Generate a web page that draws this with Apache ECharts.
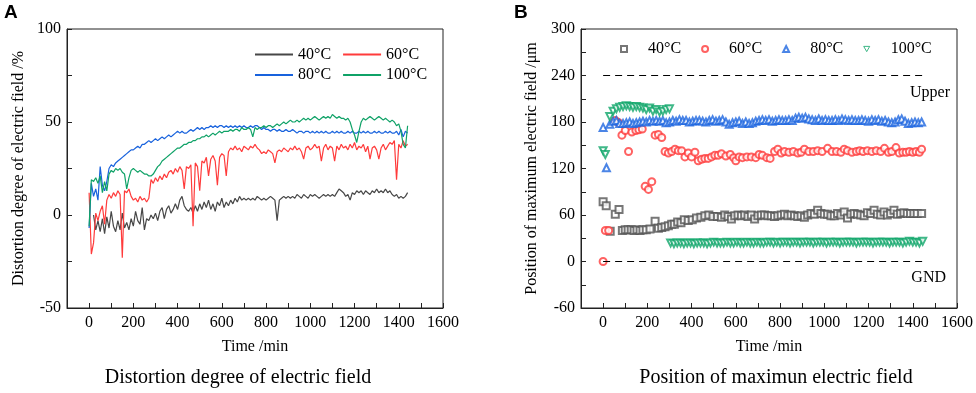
<!DOCTYPE html>
<html>
<head>
<meta charset="utf-8">
<script src="https://cdn.jsdelivr.net/npm/echarts@6.0.0/dist/echarts.min.js"></script>
<style>
  html, body { margin: 0; padding: 0; background: #fff; }
  #main { width: 976px; height: 393px; }
</style>
</head>
<body>
<div id="main"></div>
<script>
// ---- panel A : distortion degree, one value every 10 min ----
const timeA = [
  0, 10, 20, 30, 40, 50, 60, 70, 80, 90, 100, 110, 120, 130, 140, 150, 160, 170, 180, 190,
  200, 210, 220, 230, 240, 250, 260, 270, 280, 290, 300, 310, 320, 330, 340, 350, 360, 370, 380, 390,
  400, 410, 420, 430, 440, 450, 460, 470, 480, 490, 500, 510, 520, 530, 540, 550, 560, 570, 580, 590,
  600, 610, 620, 630, 640, 650, 660, 670, 680, 690, 700, 710, 720, 730, 740, 750, 760, 770, 780, 790,
  800, 810, 820, 830, 840, 850, 860, 870, 880, 890, 900, 910, 920, 930, 940, 950, 960, 970, 980, 990,
  1000, 1010, 1020, 1030, 1040, 1050, 1060, 1070, 1080, 1090, 1100, 1110, 1120, 1130, 1140, 1150, 1160, 1170, 1180, 1190,
  1200, 1210, 1220, 1230, 1240, 1250, 1260, 1270, 1280, 1290, 1300, 1310, 1320, 1330, 1340, 1350, 1360, 1370, 1380, 1390,
  1400, 1410, 1420, 1430, 1440
];
const distort40 = [
  null, null, 0, -8, -3, -9, -2, -10, -1, -7,
  2, -6, -9, -3, -8, 1, -7, -4, -8, -2,
  -6, 2, -3, -5, 4, -8, -2, -3, 0, -2,
  1, -3, 2, 4, -2, 3, 5, 1, 3, 6,
  3, 8, 10, 5, 3, 2, 4, 1, 5, 2,
  6, 3, 7, 4, 8, 3, 6, 2, 7, 5,
  9, 4, 7, 5, 8, 6, 9, 7, 10, 8,
  9, 8, 9, 8, 9, 8, 10, 9, 8, 9,
  8, 9, 10, 9, 8, -3, 8, 9, 10, 9,
  10, 9, 10, 9, 11, 10, 9, 11, 10, 9,
  11, 10, 11, 10, 9, 10, 11, 10, 11, 10,
  11, 10, 12, 14, 13, 12, 10, 11, 8, 12,
  11, 13, 12, 13, 11, 13, 12, 11, 13, 12,
  14, 12, 13, 12, 14, 12, 13, 11, 10, 11,
  9, 10, 9, 10, 12
];
const distort60 = [
  12, -21, -15, 1, -3, 2, 5, -5, 8, 11,
  9, 12, 10, 13, 11, -23, 13, 12, 14, 10,
  8, 9, 7, 10, 8, 9, 7, 9, 19, 17,
  20, 18, 21, 19, 22, 20, 23, 24, 22, 25,
  23, 26, 24, 14, 26, 25, 27, -6, 28, 26,
  13, 29, 28, 31, 21, 30, 32, 29, 16, 31,
  33, 32, 21, 34, 36, 35, 37, 35, 36, 34,
  37, 36, 35, 37, 36, 38, 36, 35, 33, 34,
  33, 35, 34, 33, 28, 34, 35, 34, 36, 35,
  34, 36, 35, 37, 35, 36, 34, 30, 36, 37,
  35, 36, 38, 36, 37, 29, 36, 38, 35, 37,
  36, 29, 37, 35, 38, 36, 37, 35, 38, 36,
  39, 35, 37, 36, 38, 34, 37, 30, 36, 37,
  35, 30, 36, 38, 35, 37, 39, 38, 40, 19,
  38, 36, 40, 37, 38
];
const distort80 = [
  -7, 17, 10, 14, 8, 26, 16, 13, 18, 25,
  27, 26, 28, 29, 30, 31, 32, 33, 34, 35,
  35, 36, 37, 36, 38, 38, 39, 40, 39, 40,
  41, 40, 41, 42, 41, 42, 43, 42, 43, 44,
  45, 44, 45, 44, 44, 45, 46, 45, 46, 47,
  46, 47, 46, 47, 47, 48, 47, 48, 47, 48,
  48, 47, 48, 47, 48, 47, 48, 47, 48, 47,
  48, 47, 47, 48, 47, 48, 48, 47, 46, 47,
  46, 46, 45, 46, 46, 45, 46, 45, 45, 46,
  45, 45, 46, 45, 44, 45, 45, 44, 45, 45,
  44, 45, 44, 45, 44, 45, 44, 45, 44, 44,
  45, 44, 45, 44, 45, 44, 44, 45, 44, 45,
  44, 44, 45, 44, 45, 44, 45, 44, 44, 45,
  44, 45, 44, 44, 45, 44, 45, 44, 44, 45,
  43, 46, 42, 45, 44
];
const distort100 = [
  -6, 19, 18, 20, 17, 21, 12, 18, 13, 22,
  24, 23, 25, 24, 25, 23, 22, 14, 20, 24,
  25, 24, 23, 24, 23, 22, 22, 21, 21, 22,
  24, 26, 27, 29, 30, 31, 32, 33, 34, 35,
  36, 36, 37, 38, 38, 39, 39, 40, 40, 41,
  41, 42, 42, 43, 42, 43, 44, 43, 44, 45,
  44, 45, 45, 45, 46, 45, 46, 46, 45, 47,
  46, 46, 47, 46, 42, 47, 46, 47, 47, 48,
  47, 48, 48, 47, 48, 49, 48, 49, 50, 49,
  50, 51, 50, 50, 51, 50, 51, 52, 51, 52,
  51, 52, 53, 52, 51, 52, 53, 52, 53, 52,
  54, 53, 52, 53, 52, 52, 51, 52, 50, 46,
  43, 39, 45, 50, 52, 51, 52, 53, 52, 51,
  52, 53, 52, 51, 52, 51, 50, 51, 50, 48,
  49, 45, 38, 36, 48
];

// ---- panel B : position of the max field, [time, position] ----
const pos40 = [[0,77],[14,72],[32,39],[55,61],[72,67],[87,40],[100,41],[113,41],[127,41],[140,40],[153,41],[167,40],[180,41],[195,41],[212,42],[235,52],[250,43],[265,44],[280,45],[295,46],[310,48],[322,48],[337,51],[352,50],[367,54],[385,53],[403,54],[422,56],[442,57],[460,59],[478,60],[497,58],[517,58],[535,57],[550,60],[565,58],[580,55],[595,59],[610,60],[625,59],[640,60],[655,58],[670,60],[685,55],[700,59],[715,60],[730,60],[745,59],[760,59],[775,58],[790,59],[805,60],[820,61],[835,59],[850,60],[865,59],[880,58],[895,59],[910,57],[925,60],[940,62],[955,61],[970,66],[985,62],[1000,61],[1015,61],[1030,59],[1045,59],[1060,62],[1075,60],[1090,64],[1105,56],[1120,61],[1135,62],[1150,61],[1165,60],[1180,59],[1195,63],[1210,62],[1225,66],[1240,61],[1255,60],[1270,64],[1285,60],[1300,62],[1315,66],[1330,61],[1345,62],[1360,63],[1375,62],[1390,62],[1405,62],[1420,62],[1440,62]];
const pos60 = [[0,0],[10,40],[25,40],[55,182],[70,179],[85,163],[100,169],[115,142],[130,167],[148,169],[162,170],[177,171],[190,97],[205,93],[220,103],[235,163],[250,164],[265,160],[280,142],[295,140],[310,142],[325,145],[340,143],[355,143],[370,135],[385,140],[400,135],[415,141],[430,130],[445,132],[460,133],[475,133],[490,135],[505,137],[520,137],[535,139],[555,136],[575,138],[590,134],[600,130],[615,135],[630,134],[650,135],[670,135],[690,134],[705,138],[720,137],[740,134],[755,133],[775,142],[790,145],[805,140],[820,142],[840,141],[860,142],[880,140],[895,141],[910,145],[930,142],[950,142],[970,143],[990,142],[1015,146],[1035,142],[1055,142],[1075,141],[1090,145],[1105,143],[1125,141],[1145,142],[1160,143],[1175,142],[1195,143],[1215,142],[1235,143],[1255,142],[1272,146],[1290,141],[1305,142],[1324,147],[1339,140],[1355,141],[1370,141],[1385,142],[1400,141],[1415,142],[1430,141],[1440,145]];
const pos80 = [[0,173],[15,121],[30,177],[45,181],[60,182],[75,178],[90,178],[105,179],[120,180],[135,178],[150,179],[165,180],[180,181],[195,180],[210,182],[225,181],[240,182],[255,181],[270,182],[285,179],[300,180],[315,182],[330,181],[345,183],[360,182],[375,182],[390,180],[405,181],[420,182],[435,182],[450,181],[465,180],[480,182],[495,183],[510,181],[525,182],[540,183],[555,180],[570,177],[585,179],[600,180],[615,181],[630,178],[645,180],[660,178],[675,179],[690,181],[705,182],[720,183],[735,182],[750,183],[765,181],[780,182],[795,183],[810,182],[825,182],[840,183],[855,182],[870,185],[885,186],[900,185],[915,186],[930,184],[945,183],[960,182],[975,184],[990,182],[1005,183],[1020,182],[1035,182],[1050,183],[1065,182],[1080,184],[1095,183],[1110,182],[1125,183],[1140,182],[1155,182],[1170,183],[1185,182],[1200,181],[1215,183],[1230,182],[1245,183],[1260,181],[1275,182],[1290,180],[1305,179],[1320,180],[1335,183],[1350,184],[1365,181],[1380,178],[1395,179],[1410,180],[1425,179],[1440,180]];
const pos100 = [[0,143],[10,138],[30,187],[45,194],[60,197],[75,199],[90,200],[105,201],[120,200],[135,199],[150,200],[165,199],[180,198],[195,196],[210,198],[225,194],[240,196],[255,193],[270,194],[285,196],[300,197],
  [305,24],[320,23],[335,24],[350,24],[365,23],[380,24],[395,24],[410,23],[425,24],[440,24],[455,24],[470,23],[485,24],[500,25],[515,24],[530,24],[545,24],[560,25],[575,24],[590,24],[605,25],[620,24],[635,24],[650,25],[665,24],[680,24],[695,25],[710,24],[725,24],[740,25],[755,25],[770,24],[785,25],[800,24],[815,25],[830,25],[845,24],[860,25],[875,25],[890,24],[905,25],[920,25],[935,25],[950,24],[965,25],[980,25],[995,25],[1010,24],[1025,25],[1040,25],[1055,25],[1070,24],[1085,25],[1100,25],[1115,25],[1130,25],[1145,24],[1160,25],[1175,25],[1190,25],[1205,25],[1220,24],[1235,25],[1250,25],[1265,25],[1280,25],[1295,24],[1310,25],[1325,25],[1340,25],[1355,24],[1370,25],[1385,26],[1400,25],[1415,25],[1430,24],[1445,26]];
const boundaryTime = [0, 1445];
const upperPos = 240;
const gndPos = 0;

const tempNames = ['40°C', '60°C', '80°C', '100°C'];
const xLabels = [0, 200, 400, 600, 800, 1000, 1200, 1400, 1600];
const yLabelsA = [-50, 0, 50, 100];
const yLabelsB = [-60, 0, 60, 120, 180, 240, 300];

const lineColors = ['#474747', '#FF3B3B', '#1862DD', '#0FA267'];
const markColors = ['#555555', '#FF3B3B', '#1E66E0', '#10A66A'];
const serif = 'Liberation Serif';

var chartDom = document.getElementById('main');
var myChart = echarts.init(chartDom);

const labelStyle = () => ({ color: '#000', fontFamily: serif, fontSize: 16 });
const plain = (v) => String(v);

function xAxisFor(grid) {
  return {
    type: 'value', gridIndex: grid, min: -100, max: 1600, interval: 100,
    splitLine: { show: false },
    axisLine: { show: true, onZero: false, lineStyle: { color: '#222' } },
    axisTick: { show: true, inside: true, length: 5, lineStyle: { color: '#222' } },
    axisLabel: Object.assign({ customValues: xLabels, margin: 7, formatter: plain }, labelStyle()),
    name: 'Time /min', nameLocation: 'middle', nameGap: 31, nameTextStyle: labelStyle()
  };
}
function yAxisFor(grid, min, max, step, labels, name, gap) {
  return {
    type: 'value', gridIndex: grid, min: min, max: max, interval: step,
    splitLine: { show: false },
    axisLine: { show: true, onZero: false, lineStyle: { color: '#222' } },
    axisTick: { show: true, inside: true, length: 5, lineStyle: { color: '#222' } },
    axisLabel: Object.assign({ customValues: labels, margin: 6, formatter: plain }, labelStyle()),
    name: name, nameLocation: 'middle', nameGap: gap, nameTextStyle: labelStyle()
  };
}

const seriesA = [distort40, distort60, distort80, distort100].map((vals, i) => ({
  name: tempNames[i],
  type: 'line',
  xAxisIndex: 0, yAxisIndex: 0,
  symbol: 'none',
  lineStyle: { width: 1.2, color: lineColors[i] },
  itemStyle: { color: lineColors[i] },
  data: timeA.map((t, k) => [t, vals[k]])
}));

const symbolsB = ['emptyRect', 'emptyCircle', 'emptyTriangle', 'emptyTriangle'];
const seriesB = [pos40, pos60, pos80, pos100].map((pts, i) => ({
  name: 'b:' + tempNames[i],
  type: 'scatter',
  xAxisIndex: 1, yAxisIndex: 1,
  symbol: symbolsB[i],
  symbolRotate: i === 3 ? 180 : 0,
  symbolSize: 7,
  itemStyle: { color: markColors[i], borderColor: markColors[i], borderWidth: 1 },
  data: pts
}));

const dashed = [upperPos, gndPos].map((y) => ({
  type: 'line', xAxisIndex: 1, yAxisIndex: 1, silent: true, symbol: 'none',
  lineStyle: { color: '#000', width: 1.2, type: [7, 5] },
  data: boundaryTime.map((t) => [t, y])
}));

const legendLine = (names, top) => ({
  data: names, left: 255, top: top, padding: 0, icon: 'rect', itemWidth: 38, itemHeight: 2, itemGap: 12,
  textStyle: labelStyle(), selectedMode: false
});

const legendB = tempNames.map((n, i) => i === 3
  ? { name: 'b:' + n, icon: 'path://M0,0L10,0L5,8.7Z',
      itemStyle: { color: '#ffffff', borderColor: markColors[3], borderWidth: 1 } }
  : { name: 'b:' + n });

option = {
  animation: false,
  backgroundColor: '#fff',
  title: [
    { text: 'A', left: 4, top: 3, padding: 0, textStyle: { fontFamily: 'Liberation Sans', fontWeight: 'bold', fontSize: 19, color: '#000' } },
    { text: 'B', left: 514, top: 3, padding: 0, textStyle: { fontFamily: 'Liberation Sans', fontWeight: 'bold', fontSize: 19, color: '#000' } },
    { text: 'Distortion degree of electric field', left: 238, top: 368, padding: 0, textAlign: 'center',
      textStyle: { fontFamily: serif, fontWeight: 'normal', fontSize: 20, color: '#000' } },
    { text: 'Position of maximun electric field', left: 776, top: 368, padding: 0, textAlign: 'center',
      textStyle: { fontFamily: serif, fontWeight: 'normal', fontSize: 20, color: '#000' } }
  ],
  legend: [
    legendLine(tempNames.slice(0, 2), 46.5),
    legendLine(tempNames.slice(2, 4), 67),
    { data: legendB, left: 620, top: 41, padding: 0, itemWidth: 6, itemHeight: 6, itemGap: 20,
      textStyle: Object.assign({ padding: [0, 0, 0, 16] }, labelStyle()), selectedMode: false,
      itemStyle: { borderWidth: 1 },
      formatter: (n) => n.replace('b:', '') }
  ],
  grid: [
    { left: 67, top: 29, width: 376, height: 279, show: true, borderColor: '#222', borderWidth: 1 },
    { left: 581, top: 29, width: 377, height: 279, show: true, borderColor: '#222', borderWidth: 1 }
  ],
  xAxis: [xAxisFor(0), xAxisFor(1)],
  yAxis: [
    yAxisFor(0, -50, 100, 25, yLabelsA, 'Distortion degree of electric field /%', 40),
    yAxisFor(1, -60, 300, 30, yLabelsB, 'Position of maximum electric field /μm', 41)
  ],
  graphic: [
    { type: 'text', x: 950, y: 93, style: { text: 'Upper', align: 'right', verticalAlign: 'middle', font: '16px "Liberation Serif"', fill: '#000' } },
    { type: 'text', x: 946, y: 278, style: { text: 'GND', align: 'right', verticalAlign: 'middle', font: '16px "Liberation Serif"', fill: '#000' } }
  ],
  series: seriesA.concat(dashed, seriesB)
};

option && myChart.setOption(option);
</script>
</body>
</html>
